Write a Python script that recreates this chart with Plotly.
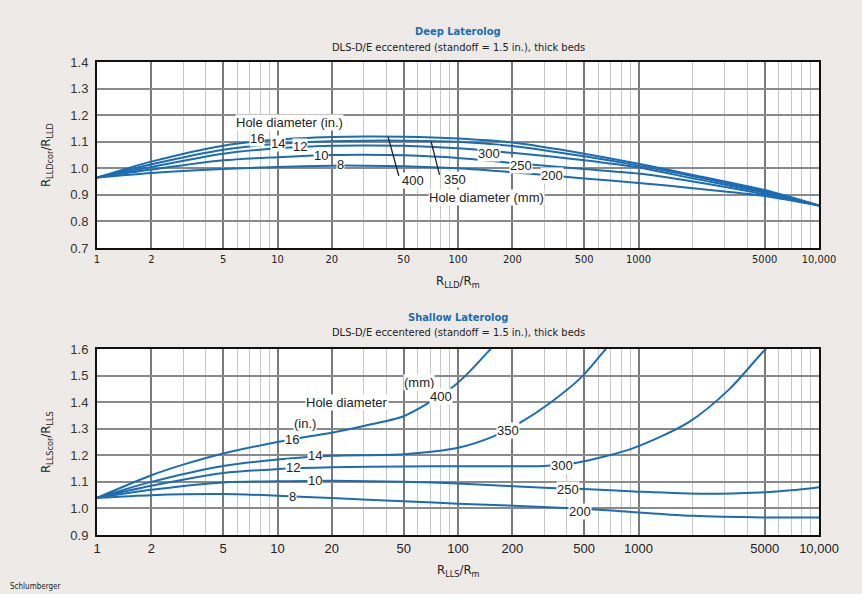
import math
import plotly.graph_objects as go

# ---------------- data ----------------
# Deep Laterolog (top chart): hole diameter curves, x = R_LLD/R_m
deep_x = [1, 2, 5, 10, 20, 30, 50, 100, 200, 500, 1000, 2000, 5000, 10000]
deep_16in = [0.965, 1.025, 1.085, 1.108, 1.118, 1.120, 1.119, 1.112, 1.097, 1.055, 1.017, 0.975, 0.918, 0.860]
deep_14in = [0.965, 1.015, 1.070, 1.092, 1.102, 1.104, 1.104, 1.100, 1.084, 1.045, 1.010, 0.970, 0.913, 0.860]
deep_12in = [0.965, 1.005, 1.055, 1.075, 1.085, 1.086, 1.085, 1.075, 1.058, 1.030, 1.003, 0.962, 0.908, 0.860]
deep_10in = [0.965, 0.995, 1.030, 1.042, 1.050, 1.051, 1.049, 1.039, 1.020, 0.997, 0.980, 0.950, 0.902, 0.860]
deep_8in = [0.965, 0.982, 0.997, 1.005, 1.010, 1.010, 1.008, 1.000, 0.985, 0.962, 0.945, 0.925, 0.896, 0.860]

# Shallow Laterolog (bottom chart), x = R_LLS/R_m
sh_16in_x = [1, 2, 3, 5, 10, 14, 20, 30, 50, 68, 92, 116, 147, 152]
sh_16in_y = [1.04, 1.125, 1.165, 1.207, 1.250, 1.268, 1.285, 1.310, 1.347, 1.395, 1.453, 1.515, 1.590, 1.600]
sh_14in_x = [1, 2, 5, 10, 20, 50, 100, 156, 220, 322, 485, 640, 660]
sh_14in_y = [1.04, 1.100, 1.160, 1.184, 1.198, 1.204, 1.228, 1.270, 1.322, 1.396, 1.495, 1.590, 1.600]
sh_12in_x = [1, 2, 5, 10, 20, 50, 100, 300, 455, 935, 1900, 3200, 4900, 5100]
sh_12in_y = [1.04, 1.085, 1.133, 1.148, 1.155, 1.158, 1.159, 1.160, 1.172, 1.227, 1.325, 1.450, 1.590, 1.600]
sh_10in_x = [1, 2, 5, 10, 20, 50, 100, 322, 535, 1000, 2300, 4700, 7000, 10000]
sh_10in_y = [1.04, 1.070, 1.098, 1.102, 1.104, 1.100, 1.094, 1.077, 1.072, 1.063, 1.055, 1.060, 1.068, 1.080]
sh_8in_x = [1, 2, 5, 10, 20, 50, 100, 367, 610, 2000, 5000, 10000]
sh_8in_y = [1.04, 1.050, 1.054, 1.048, 1.039, 1.027, 1.018, 1.003, 0.995, 0.972, 0.966, 0.966]

# curve labels: (text, x, y)
deep_labels = [
    ("Hole diameter (in.)", 11.7, 1.172),
    ("16", 7.7, 1.112),
    ("14", 10.1, 1.092),
    ("12", 13.3, 1.082),
    ("10", 17.4, 1.049),
    ("8", 22.2, 1.013),
    ("400", 56, 0.955),
    ("350", 96, 0.958),
    ("Hole diameter (mm)", 144, 0.891),
    ("300", 149, 1.057),
    ("250", 222, 1.011),
    ("200", 330, 0.971),
]
deep_leader_400_x = [41, 47]
deep_leader_400_y = [1.118, 0.972]
deep_leader_350_x = [71, 79]
deep_leader_350_y = [1.100, 0.975]

shallow_labels = [
    ("Hole diameter", 24.2, 1.40),
    ("(mm)", 61, 1.475),
    ("400", 81, 1.42),
    ("(in.)", 14.2, 1.318),
    ("16", 12.1, 1.261),
    ("14", 16.1, 1.200),
    ("12", 12.2, 1.154),
    ("10", 16.1, 1.104),
    ("8", 12.1, 1.045),
    ("350", 190, 1.294),
    ("300", 375, 1.162),
    ("250", 408, 1.073),
    ("200", 473, 0.990),
]

major_ticks = [1, 2, 5, 10, 20, 50, 100, 200, 500, 1000, 5000, 10000]
major_text = ["1", "2", "5", "10", "20", "50", "100", "200", "500", "1000", "5000", "10,000"]
minor_ticks = [3, 4, 6, 7, 8, 9, 30, 40, 60, 70, 80, 90, 300, 400, 600, 700, 800, 900,
               2000, 3000, 4000, 6000, 7000, 8000, 9000]
deep_yticks = [0.7, 0.8, 0.9, 1.0, 1.1, 1.2, 1.3, 1.4]
shallow_yticks = [0.9, 1.0, 1.1, 1.2, 1.3, 1.4, 1.5, 1.6]

# ---------------- styling ----------------
W, H = 862, 594
BLUE = "#1b6cb3"
BG = "#edeae7"
NARROW = "Liberation Sans Narrow, DejaVu Sans Condensed, Liberation Sans, Arial, sans-serif"
REG = "Liberation Sans, Arial, sans-serif"

def px_x(p):
    return p / W

def px_y(p):
    return 1 - p / H

fig = go.Figure()

line_style = dict(color=BLUE, width=2)
for ys in [deep_8in, deep_10in, deep_12in, deep_14in, deep_16in]:
    fig.add_trace(go.Scatter(x=deep_x, y=ys, mode="lines", line=dict(shape="spline", smoothing=0.8, **line_style),
                             xaxis="x", yaxis="y", hoverinfo="skip", showlegend=False))
for lx, ly in [(deep_leader_400_x, deep_leader_400_y), (deep_leader_350_x, deep_leader_350_y)]:
    fig.add_trace(go.Scatter(x=lx, y=ly, mode="lines", line=dict(color="#222", width=1.3),
                             xaxis="x", yaxis="y", hoverinfo="skip", showlegend=False))
for xs, ys in [(sh_8in_x, sh_8in_y), (sh_10in_x, sh_10in_y), (sh_12in_x, sh_12in_y),
               (sh_14in_x, sh_14in_y), (sh_16in_x, sh_16in_y)]:
    fig.add_trace(go.Scatter(x=xs, y=ys, mode="lines", line=dict(shape="spline", smoothing=0.8, **line_style),
                             xaxis="x2", yaxis="y2", hoverinfo="skip", showlegend=False, cliponaxis=True))

xdom = [px_x(97), px_x(819)]
def xaxis_cfg(anchor, font):
    return dict(type="log", range=[0, 4], domain=xdom, anchor=anchor, automargin=False,
                tickmode="array", tickvals=major_ticks, ticktext=major_text,
                tickfont=font, ticks="", showgrid=True, gridcolor="#7a7a7a", gridwidth=1.5,
                minor=dict(tickmode="array", tickvals=minor_ticks, showgrid=True,
                           gridcolor="#c8c8c8", gridwidth=1, ticks=""),
                showline=True, linecolor="#111", linewidth=2, mirror=True, zeroline=False,
                fixedrange=True)

def yaxis_cfg(anchor, dom, rng, tv):
    return dict(range=rng, domain=dom, anchor=anchor, automargin=False, tickmode="array", tickvals=tv,
                ticktext=[f"{v:.1f}" for v in tv],
                tickfont=dict(family=REG, size=13, color="#333"), ticks="",
                showgrid=True, gridcolor="#8a8a8a", gridwidth=1.5,
                showline=True, linecolor="#111", linewidth=2, mirror=True, zeroline=False,
                ticklabelstandoff=4, fixedrange=True)

fig.update_layout(
    width=W, height=H, autosize=False,
    margin=dict(l=0, r=0, t=0, b=0, pad=0),
    paper_bgcolor=BG, plot_bgcolor="white",
    xaxis=xaxis_cfg("y", dict(family=NARROW, size=11, color="#222")),
    yaxis=yaxis_cfg("x", [px_y(248), px_y(62)], [0.7, 1.4], deep_yticks),
    xaxis2=xaxis_cfg("y2", dict(family=REG, size=13, color="#222")),
    yaxis2=yaxis_cfg("x2", [px_y(535), px_y(349)], [0.9, 1.6], shallow_yticks),
)

ann = []
for txt, x, y in deep_labels:
    ann.append(dict(text=txt, x=math.log10(x), y=y, xref="x", yref="y", showarrow=False,
                    font=dict(family=REG, size=13, color="#222"), bgcolor="white", borderpad=0))
for txt, x, y in shallow_labels:
    ann.append(dict(text=txt, x=math.log10(x), y=y, xref="x2", yref="y2", showarrow=False,
                    font=dict(family=REG, size=13, color="#222"), bgcolor="white", borderpad=0))

def paper_text(txt, xp, yp, size, color="#222", family=NARROW, angle=0, xanchor="center"):
    return dict(text=txt, x=px_x(xp), y=px_y(yp), xref="paper", yref="paper", showarrow=False,
                font=dict(family=family, size=size, color=color), textangle=angle,
                xanchor=xanchor, yanchor="middle")

cx = (97 + 819) / 2
ann += [
    paper_text("<b>Deep Laterolog</b>", cx, 31, 11, BLUE),
    paper_text("DLS-D/E eccentered (standoff = 1.5 in.), thick beds", cx, 47, 11),
    paper_text("R<sub>LLD</sub>/R<sub>m</sub>", cx, 282, 13),
    paper_text("R<sub>LLDcor</sub>/R<sub>LLD</sub>", 46, 155, 13, angle=-90),
    paper_text("<b>Shallow Laterolog</b>", cx, 317, 11, BLUE),
    paper_text("DLS-D/E eccentered (standoff = 1.5 in.), thick beds", cx, 333, 11),
    paper_text("R<sub>LLS</sub>/R<sub>m</sub>", cx, 570, 13),
    paper_text("R<sub>LLScor</sub>/R<sub>LLS</sub>", 46, 442, 13, angle=-90),
    paper_text("Schlumberger", 8, 586, 8, xanchor="left"),
]
fig.update_layout(annotations=ann)

fig.write_html("out.html")
